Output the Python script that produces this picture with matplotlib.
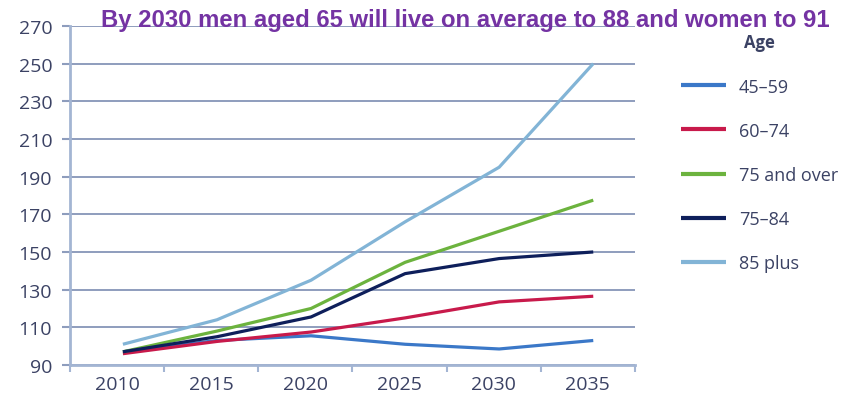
import matplotlib
matplotlib.use("Agg")
import matplotlib.pyplot as plt
import numpy as np

years = ["2010", "2015", "2020", "2025", "2030", "2035"]
age_45_59 = [97, 103, 105.5, 101, 98.5, 103]
age_60_74 = [96, 102.5, 107.5, 115, 123.5, 126.5]
age_75_over = [97, 108, 120, 144.5, 161, 177.5]
age_75_84 = [97, 105, 115.5, 138.5, 146.5, 150]
age_85_plus = [101, 114, 135, 166, 195, 250]

labels = ["45\u201359", "60\u201374", "75 and over", "75\u201384", "85 plus"]
series = [age_45_59, age_60_74, age_75_over, age_75_84, age_85_plus]
colors = ["#3b78c8", "#c81a4b", "#6cb33e", "#0e1f5b", "#82b4d6"]

title = "By 2030 men aged 65 will live on average to 88 and women to 91"

text_col = "#3b4264"
grid_col = "#8e9dbd"
spine_col = "#a3b5d3"

fig = plt.figure(figsize=(8.67, 4.02), dpi=100)
ax = fig.add_axes([0.081, 0.0896, 0.651, 0.8434])

x = np.arange(len(years))
for vals, lab, c in zip(series, labels, colors):
    ax.plot(x + 0.06, vals, color=c, lw=2.3, label=lab, solid_capstyle="butt", zorder=3)

ax.set_ylim(90, 270)
ax.set_yticks(np.arange(90, 271, 20))
ax.set_xlim(-0.5, 5.5)
ax.set_xticks(x)
ax.set_xticklabels(years)
ax.set_xticks(np.arange(-0.5, 5.6, 1), minor=True)
ax.tick_params(axis="x", which="major", length=0, pad=7, labelsize=14, labelcolor=text_col)
ax.tick_params(axis="x", which="minor", length=5, width=1.5, color=spine_col, direction="out")
ax.tick_params(axis="y", length=6, width=1.5, color=grid_col, labelsize=14, labelcolor=text_col, pad=7)
for t in ax.get_xticklabels() + ax.get_yticklabels():
    t.set_fontfamily("Open Sans")

ax.grid(axis="y", color=grid_col, lw=1.4, zorder=1)
ax.set_axisbelow(True)
for s in ["top", "right"]:
    ax.spines[s].set_visible(False)
ax.spines["left"].set_color(spine_col)
ax.spines["left"].set_linewidth(2)
ax.spines["bottom"].set_color(spine_col)
ax.spines["bottom"].set_linewidth(2)

fig.text(0.537, 0.934, title, ha="center", va="baseline", fontsize=17.2,
         family="Liberation Sans", color="#7433a3", fontweight="bold")

leg = fig.legend(loc="upper left", bbox_to_anchor=(0.767, 0.955), frameon=False,
                 title="Age", handlelength=2.5, handletextpad=0.7, labelspacing=1.45,
                 prop={"family": "Open Sans", "size": 13},
                 title_fontproperties={"family": "Open Sans", "size": 12, "weight": "bold"})
for t in leg.get_texts():
    t.set_color(text_col)
leg.get_title().set_color(text_col)
for h in leg.get_lines():
    h.set_linewidth(3)

fig.savefig("out.png", dpi=100)
